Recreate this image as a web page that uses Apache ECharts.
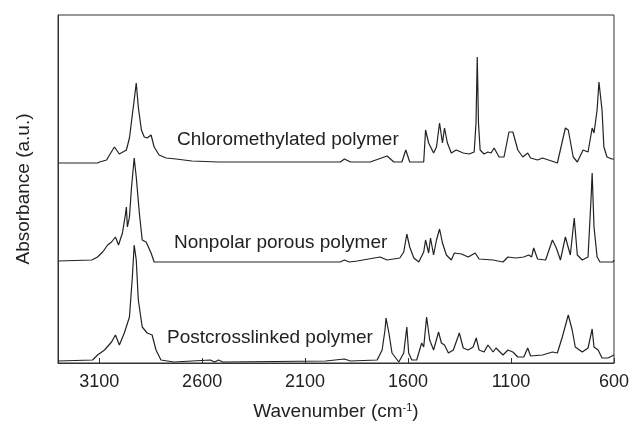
<!DOCTYPE html>
<html>
<head>
<meta charset="utf-8">
<script src="https://cdn.jsdelivr.net/npm/echarts@6/dist/echarts.min.js"></script>
<style>
  html, body { margin: 0; padding: 0; background: #fff; }
  #chart { width: 632px; height: 433px; }
</style>
</head>
<body>
<div id="chart"></div>
<script>
// tick labels of the wavenumber axis
const xTicks = [3100, 2600, 2100, 1600, 1100, 600];

// spectra: [wavenumber, absorbance (offset)]
const chloromethylated = [
  [3300, 2.00], [3108, 2.00], [3098, 2.01], [3064, 2.03], [3050, 2.08], [3026, 2.16],
  [3002, 2.09], [2968, 2.13], [2953, 2.25], [2944, 2.40], [2930, 2.63], [2920, 2.80],
  [2910, 2.56], [2895, 2.33], [2881, 2.26], [2867, 2.25], [2848, 2.28], [2833, 2.16],
  [2809, 2.08], [2775, 2.05], [2727, 2.04], [2650, 2.02], [2520, 2.01], [1929, 2.01],
  [1909, 2.04], [1880, 2.01], [1784, 2.01], [1702, 2.07], [1669, 2.01], [1630, 2.01],
  [1611, 2.13], [1592, 2.01], [1524, 2.01], [1515, 2.33], [1500, 2.20], [1476, 2.10],
  [1462, 2.16], [1447, 2.40], [1433, 2.20], [1423, 2.35], [1409, 2.20], [1390, 2.10],
  [1366, 2.13], [1332, 2.10], [1303, 2.09], [1279, 2.11], [1270, 2.40], [1264, 3.06],
  [1258, 2.40], [1250, 2.13], [1231, 2.09], [1212, 2.11], [1197, 2.10], [1182, 2.15],
  [1158, 2.06], [1134, 2.06], [1110, 2.31], [1091, 2.31], [1067, 2.13], [1043, 2.06],
  [1019, 2.10], [1005, 2.05], [971, 2.03], [947, 2.05], [918, 2.03], [875, 2.00],
  [836, 2.35], [822, 2.33], [798, 2.06], [778, 2.01], [750, 2.13], [726, 2.11],
  [706, 2.35], [697, 2.30], [682, 2.53], [673, 2.81], [658, 2.53], [649, 2.16],
  [634, 2.06], [610, 2.04], [600, 2.04]
];

const nonpolar = [
  [3300, 1.02], [3136, 1.03], [3108, 1.06], [3083, 1.11], [3059, 1.18], [3040, 1.21],
  [3021, 1.26], [3006, 1.18], [2987, 1.30], [2973, 1.48], [2968, 1.56], [2963, 1.36],
  [2953, 1.46], [2944, 1.73], [2930, 2.05], [2920, 1.86], [2905, 1.50], [2891, 1.23],
  [2872, 1.21], [2848, 1.10], [2833, 1.01], [2737, 1.01], [2400, 1.01], [1930, 1.01],
  [1909, 1.03], [1885, 1.01], [1847, 1.02], [1736, 1.06], [1702, 1.03], [1640, 1.05],
  [1621, 1.11], [1606, 1.29], [1592, 1.16], [1572, 1.05], [1548, 1.01], [1524, 1.11],
  [1515, 1.23], [1500, 1.10], [1491, 1.25], [1476, 1.08], [1462, 1.23], [1447, 1.34],
  [1433, 1.20], [1414, 1.08], [1390, 1.03], [1375, 1.10], [1341, 1.09], [1308, 1.06],
  [1274, 1.10], [1255, 1.04], [1187, 1.03], [1139, 1.01], [1115, 1.06], [1077, 1.05],
  [1038, 1.06], [1014, 1.08], [1000, 1.06], [990, 1.15], [971, 1.04], [932, 1.03],
  [899, 1.23], [880, 1.15], [860, 1.03], [836, 1.26], [812, 1.08], [793, 1.45],
  [778, 1.08], [754, 1.03], [726, 1.06], [711, 1.66], [706, 1.90], [697, 1.36],
  [682, 1.06], [668, 1.01], [605, 1.01], [600, 1.03]
];

const postcrosslinked = [
  [3300, 0.02], [3132, 0.03], [3108, 0.08], [3074, 0.13], [3040, 0.21], [3021, 0.28],
  [3002, 0.18], [2978, 0.30], [2953, 0.46], [2939, 0.86], [2930, 1.18], [2920, 1.03],
  [2910, 0.63], [2891, 0.36], [2867, 0.30], [2843, 0.28], [2824, 0.13], [2800, 0.03],
  [2737, 0.01], [2560, 0.03], [2540, 0.01], [2520, 0.03], [2500, 0.01], [2000, 0.02],
  [1909, 0.04], [1880, 0.02], [1750, 0.03], [1726, 0.13], [1712, 0.33], [1707, 0.45],
  [1693, 0.30], [1678, 0.10], [1645, 0.01], [1621, 0.10], [1606, 0.36], [1597, 0.10],
  [1582, 0.03], [1558, 0.03], [1534, 0.20], [1524, 0.16], [1510, 0.46], [1495, 0.23],
  [1476, 0.13], [1452, 0.31], [1438, 0.20], [1423, 0.18], [1404, 0.10], [1380, 0.13],
  [1351, 0.30], [1332, 0.15], [1308, 0.13], [1284, 0.16], [1269, 0.25], [1255, 0.13],
  [1231, 0.11], [1212, 0.18], [1187, 0.11], [1173, 0.15], [1139, 0.08], [1115, 0.13],
  [1091, 0.11], [1067, 0.06], [1038, 0.06], [1019, 0.15], [1005, 0.07], [947, 0.08],
  [899, 0.11], [875, 0.10], [851, 0.26], [822, 0.48], [803, 0.33], [788, 0.16],
  [754, 0.11], [726, 0.15], [706, 0.34], [697, 0.16], [677, 0.13], [658, 0.05],
  [629, 0.05], [600, 0.08]
];

const seriesNames = ['Chloromethylated polymer', 'Nonpolar porous polymer', 'Postcrosslinked polymer'];

const chart = echarts.init(document.getElementById('chart'));
const font = '"Liberation Sans", Arial, sans-serif';
const ink = '#222';

function trace(name, data) {
  return {
    name: name,
    type: 'line',
    data: data,
    showSymbol: false,
    lineStyle: { color: ink, width: 1.2 },
    itemStyle: { color: ink }
  };
}

chart.setOption({
  animation: false,
  textStyle: { fontFamily: font },
  grid: {
    left: 58, right: 13, top: 15, bottom: 70,
    show: true, borderColor: '#333', borderWidth: 1
  },
  xAxis: {
    type: 'value',
    inverse: true,
    min: 600,
    max: 3300,
    name: '{a|Wavenumber (cm}{s|-1}{a|)}',
    nameLocation: 'middle',
    nameGap: 39,
    nameTextStyle: {
      rich: {
        a: { fontSize: 19, color: ink, fontFamily: font },
        s: { fontSize: 11, color: ink, fontFamily: font, verticalAlign: 'top', padding: [0, 0, 9, 0] }
      }
    },
    axisLine: { lineStyle: { color: '#333', width: 1 } },
    axisTick: { inside: true, length: 5, customValues: xTicks, lineStyle: { color: '#333' } },
    axisLabel: {
      customValues: xTicks,
      fontSize: 18,
      color: ink,
      margin: 10,
      formatter: (v) => String(v)
    },
    splitLine: { show: false }
  },
  yAxis: {
    type: 'value',
    min: 0,
    max: 3.48,
    name: 'Absorbance (a.u.)',
    nameLocation: 'middle',
    nameGap: 25,
    nameTextStyle: { fontSize: 19, color: ink },
    axisLine: { show: true, lineStyle: { color: '#333', width: 1 } },
    axisTick: { show: false },
    axisLabel: { show: false },
    splitLine: { show: false }
  },
  graphic: [
    { type: 'text', left: 177, top: 130, style: { text: seriesNames[0], font: '19px ' + font, fill: ink } },
    { type: 'text', left: 174, top: 233, style: { text: seriesNames[1], font: '19px ' + font, fill: ink } },
    { type: 'text', left: 167, top: 328, style: { text: seriesNames[2], font: '19px ' + font, fill: ink } }
  ],
  series: [
    trace(seriesNames[0], chloromethylated),
    trace(seriesNames[1], nonpolar),
    trace(seriesNames[2], postcrosslinked)
  ]
});
</script>
</body>
</html>
